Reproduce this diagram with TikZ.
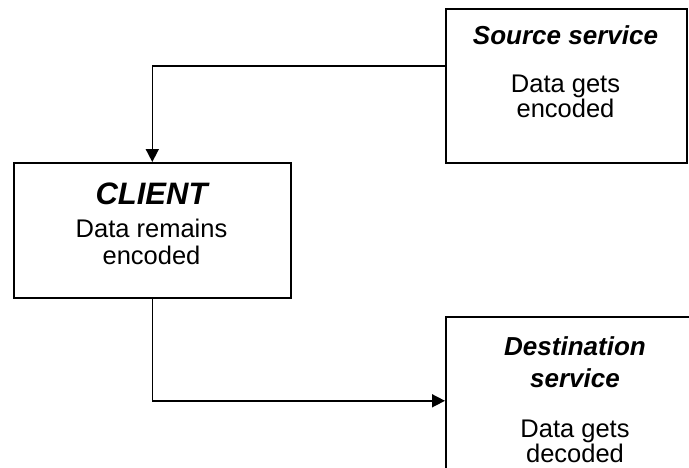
\documentclass[tikz,border=0pt]{standalone}
\usepackage{fontspec}
\setmainfont{Liberation Sans}
\usetikzlibrary{arrows.meta,calc}
\begin{document}
\begin{tikzpicture}[x=1pt,y=-1pt,
  box/.style={draw=black,line width=1.6pt,rectangle,inner sep=0pt,anchor=north west},
  body/.style={anchor=base,font=\fontsize{25.5}{28}\selectfont,inner sep=0pt},
  head/.style={anchor=base,font=\fontsize{26}{28}\selectfont\bfseries\itshape,inner sep=0pt},
  link/.style={draw=black,line width=1.6pt,-{Triangle[length=13pt,width=13pt]}}]
\useasboundingbox (0,0) rectangle (689,467);
\clip (0,0) rectangle (689,467);

% boxes
\node[box,minimum width=241pt,minimum height=154pt] (src) at (445,8) {};
\node[box,minimum width=277pt,minimum height=135pt] (cli) at (13,162) {};
\node[box,minimum width=262pt,minimum height=168pt] (dst) at (445,316) {};

% source service
\node[head] (srcT) at (565.5,44) {Source service};
\node[body] (srcA) at (565.5,92) {Data gets};
\node[body] (srcB) at (565.5,117) {encoded};

% client
\node[head,font=\fontsize{31}{33}\selectfont\bfseries\itshape] (cliT) at (151.5,204) {CLIENT};
\node[body] (cliA) at (151.5,237) {Data remains};
\node[body] (cliB) at (151.5,264) {encoded};

% destination service
\node[head] (dstT) at (575,355) {Destination};
\node[head] (dstU) at (575,387) {service};
\node[body] (dstA) at (575,437) {Data gets};
\node[body] (dstB) at (575,462) {decoded};

% connectors
\draw[link] ([yshift=-58pt]src.north west) -| (cli.north);
\draw[link] (cli.south) |- (dst.west);
\end{tikzpicture}
\end{document}
